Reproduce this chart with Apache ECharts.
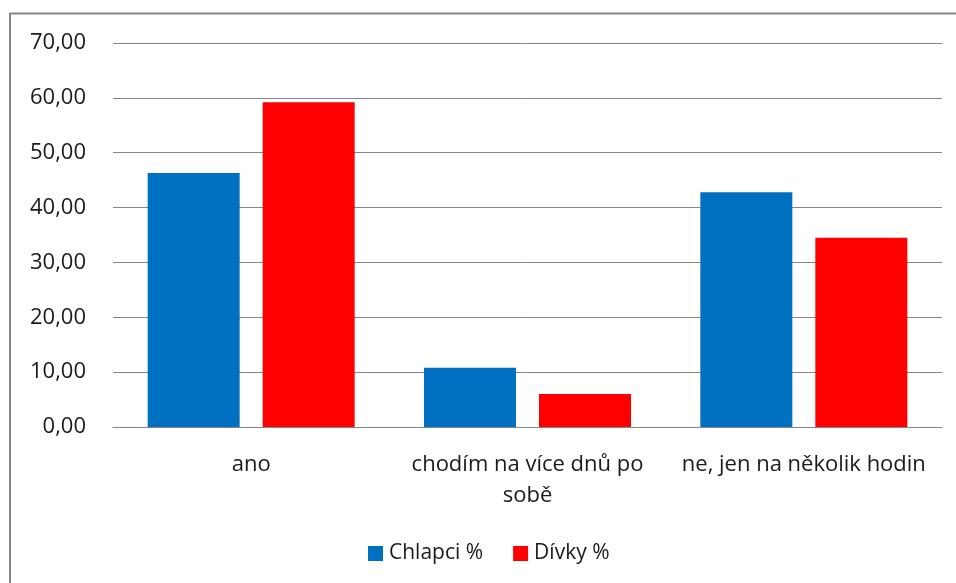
<!DOCTYPE html>
<html>
<head>
<meta charset="utf-8">
<script src="https://cdn.jsdelivr.net/npm/echarts@6/dist/echarts.min.js"></script>
<style>
  html, body { margin: 0; padding: 0; background: #fff; }
  #chart { width: 956px; height: 583px; }
</style>
</head>
<body>
<div id="chart"></div>
<script>
const categories = ['ano', 'chodím na více dnů po\nsobě', 'ne, jen na několik hodin'];
const chlapci = [46.3, 10.8, 42.8];
const divky = [59.2, 6.0, 34.5];
const seriesNames = ['Chlapci %', 'Dívky %'];

const FontColor = '#1a1a1a';
const chart = echarts.init(document.getElementById('chart'));

const option = {
    animation: false,
    graphic: [{
        type: 'polyline',
        shape: { points: [[10, 583], [10, 13.5], [956, 13.5]] },
        style: { stroke: '#868686', lineWidth: 2, fill: null }
    }],
    legend: {
        top: 538,
        left: 363,
        padding: 5,
        itemWidth: 15,
        itemHeight: 15,
        itemGap: 30,
        icon: 'rect',
        textStyle: { color: FontColor, fontSize: 21, fontFamily: 'Open Sans', padding: [0, 0, 0, 1] },
        data: seriesNames
    },
    grid: {
        top: 43,
        bottom: 156,
        left: 113,
        right: 14
    },
    xAxis: {
        type: 'category',
        data: categories,
        axisLine: { lineStyle: { color: '#868686' } },
        axisTick: { show: false },
        axisLabel: {
            color: FontColor,
            fontSize: 22,
            fontFamily: 'Open Sans',
            margin: 22,
            lineHeight: 31,
            interval: 0
        }
    },
    yAxis: {
        type: 'value',
        min: 0,
        max: 70,
        interval: 10,
        axisLine: { show: false },
        axisTick: { show: false },
        axisLabel: {
            color: FontColor,
            fontSize: 22,
            fontFamily: 'Open Sans',
            margin: 27,
            formatter: v => v.toFixed(2).replace('.', ',')
        },
        splitLine: { lineStyle: { color: '#868686' } }
    },
    series: [{
        name: seriesNames[0],
        type: 'bar',
        data: chlapci,
        barWidth: 92,
        barGap: '25%',
        itemStyle: { color: '#0070c0' }
    }, {
        name: seriesNames[1],
        type: 'bar',
        data: divky,
        barWidth: 92,
        itemStyle: { color: '#ff0000' }
    }]
};

chart.setOption(option);
</script>
</body>
</html>
